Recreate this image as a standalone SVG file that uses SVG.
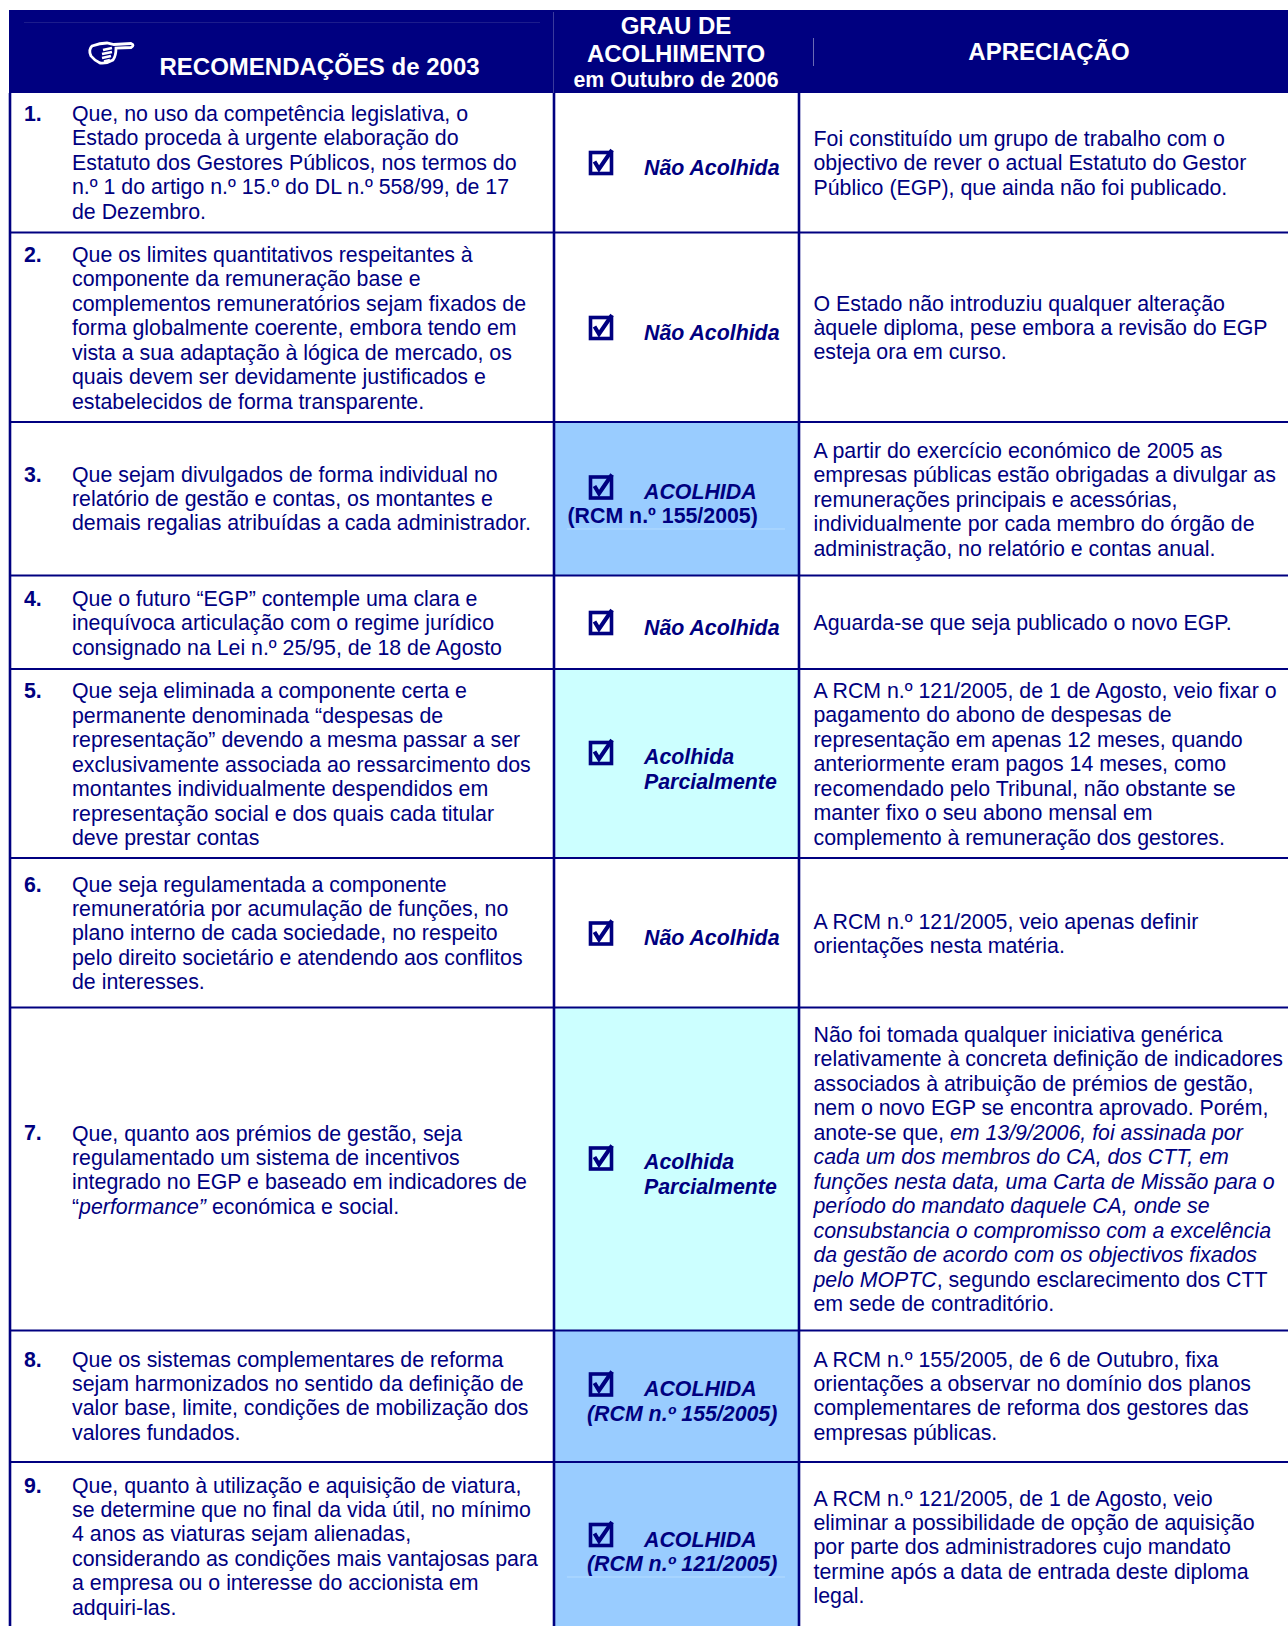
<svg xmlns="http://www.w3.org/2000/svg" width="1288" height="1626" viewBox="0 0 1288 1626">
<style>
text{font-family:"Liberation Sans",Arial,sans-serif;fill:#000080}
.b{font-size:21.33px}
.n{font-size:21.33px;font-weight:700}
.s{font-size:21.33px;font-weight:700;font-style:italic}
.r{font-size:21.33px;font-weight:700}
.h{font-weight:700;font-size:24px}
#header text{fill:#fff}
.c{text-anchor:middle}
.i{font-style:italic}
.g{stroke:#000080;stroke-width:2;fill:none}
.v{stroke:#000080;stroke-width:2.6;fill:none}
</style>
<defs>
<g id="chk"><rect x="-10.5" y="-10.5" width="21" height="21" fill="none" stroke="#000080" stroke-width="3.6"/><path d="M-6.5 -1.5L-2 6L11 -13" fill="none" stroke="#000080" stroke-width="4"/></g>
</defs>
<rect width="1288" height="1626" fill="#fff"/>
<g id="fills">
<rect x="554" y="422" width="245" height="154" fill="#99ccff"/>
<rect x="554" y="669" width="245" height="189" fill="#ccffff"/>
<rect x="554" y="1007" width="245" height="324" fill="#ccffff"/>
<rect x="554" y="1331" width="245" height="131" fill="#99ccff"/>
<rect x="554" y="1462" width="245" height="164" fill="#99ccff"/>
</g>
<g id="header">
<rect x="9" y="10" width="1279" height="83" fill="#000080"/>
<path d="M24 22.5H540" stroke="#1c1c8c" stroke-width="1"/>
<path d="M553.5 12V93" stroke="#3a3a9c" stroke-width="1"/>
<path d="M813.5 38V66" stroke="#6a6ab4" stroke-width="1"/>
<g id="hand" fill="none" stroke="#fff" stroke-width="2.8"><path d="M92 46Q100 43 107 43L114 44.5L131 43.5Q135 45 131 47.5L116 48Q116 56 113 60Q106 64 100 63Q94 60 91 56Q88 50 92 46Z"/><path d="M103 50L112 48M102 54L112 52M102 58L111 56M104 61.5L110 60"/></g>
<text class="h" x="159.5" y="75">RECOMENDAÇÕES de 2003</text>
<text class="h c" x="676" y="34">GRAU DE</text>
<text class="h c" x="676" y="62">ACOLHIMENTO</text>
<text class="r c" x="676" y="87">em Outubro de 2006</text>
<text class="h c" x="1049" y="60">APRECIAÇÃO</text>
</g>
<g id="grid">
<path class="g" d="M9 232.5H1288M9 422H1288M9 575.5H1288M9 669H1288M9 858H1288M9 1007.5H1288M9 1330.5H1288M9 1462H1288"/>
<path class="v" d="M10 93V1626M554 93V1626M799 93V1626"/>
<path d="M567 529H785M567 1577H785" stroke="#b4dcff" stroke-width="1"/>
</g>
<g id="row1">
<text class="n" x="24" y="121">1.</text>
<text class="b" y="121"><tspan x="72">Que, no uso da competência legislativa, o</tspan><tspan x="72" dy="24.45">Estado proceda à urgente elaboração do</tspan><tspan x="72" dy="24.45">Estatuto dos Gestores Públicos, nos termos do</tspan><tspan x="72" dy="24.45">n.º 1 do artigo n.º 15.º do DL n.º 558/99, de 17</tspan><tspan x="72" dy="24.45">de Dezembro.</tspan></text>
<use href="#chk" x="601" y="163"/>
<text class="s" x="644" y="175">Não Acolhida</text>
<text class="b" y="146"><tspan x="813.5">Foi constituído um grupo de trabalho com o</tspan><tspan x="813.5" dy="24.45">objectivo de rever o actual Estatuto do Gestor</tspan><tspan x="813.5" dy="24.45">Público (EGP), que ainda não foi publicado.</tspan></text>
</g>
<g id="row2">
<text class="n" x="24" y="262">2.</text>
<text class="b" y="262"><tspan x="72">Que os limites quantitativos respeitantes à</tspan><tspan x="72" dy="24.45">componente da remuneração base e</tspan><tspan x="72" dy="24.45">complementos remuneratórios sejam fixados de</tspan><tspan x="72" dy="24.45">forma globalmente coerente, embora tendo em</tspan><tspan x="72" dy="24.45">vista a sua adaptação à lógica de mercado, os</tspan><tspan x="72" dy="24.45">quais devem ser devidamente justificados e</tspan><tspan x="72" dy="24.45">estabelecidos de forma transparente.</tspan></text>
<use href="#chk" x="601" y="328"/>
<text class="s" x="644" y="340">Não Acolhida</text>
<text class="b" y="310.5"><tspan x="813.5">O Estado não introduziu qualquer alteração</tspan><tspan x="813.5" dy="24.45">àquele diploma, pese embora a revisão do EGP</tspan><tspan x="813.5" dy="24.45">esteja ora em curso.</tspan></text>
</g>
<g id="row3">
<text class="n" x="24" y="481.5">3.</text>
<text class="b" y="481.5"><tspan x="72">Que sejam divulgados de forma individual no</tspan><tspan x="72" dy="24.45">relatório de gestão e contas, os montantes e</tspan><tspan x="72" dy="24.45">demais regalias atribuídas a cada administrador.</tspan></text>
<use href="#chk" x="601" y="487.5"/>
<text class="s" x="644" y="498.5">ACOLHIDA</text>
<text class="r" x="567.5" y="523">(RCM n.º 155/2005)</text>
<text class="b" y="458"><tspan x="813.5">A partir do exercício económico de 2005 as</tspan><tspan x="813.5" dy="24.45">empresas públicas estão obrigadas a divulgar as</tspan><tspan x="813.5" dy="24.45">remunerações principais e acessórias,</tspan><tspan x="813.5" dy="24.45">individualmente por cada membro do órgão de</tspan><tspan x="813.5" dy="24.45">administração, no relatório e contas anual.</tspan></text>
</g>
<g id="row4">
<text class="n" x="24" y="606">4.</text>
<text class="b" y="606"><tspan x="72">Que o futuro “EGP” contemple uma clara e</tspan><tspan x="72" dy="24.45">inequívoca articulação com o regime jurídico</tspan><tspan x="72" dy="24.45">consignado na Lei n.º 25/95, de 18 de Agosto</tspan></text>
<use href="#chk" x="601" y="623"/>
<text class="s" x="644" y="635">Não Acolhida</text>
<text class="b" x="813.5" y="630">Aguarda-se que seja publicado o novo EGP.</text>
</g>
<g id="row5">
<text class="n" x="24" y="698">5.</text>
<text class="b" y="698.3"><tspan x="72">Que seja eliminada a componente certa e</tspan><tspan x="72" dy="24.45">permanente denominada “despesas de</tspan><tspan x="72" dy="24.45">representação” devendo a mesma passar a ser</tspan><tspan x="72" dy="24.45">exclusivamente associada ao ressarcimento dos</tspan><tspan x="72" dy="24.45">montantes individualmente despendidos em</tspan><tspan x="72" dy="24.45">representação social e dos quais cada titular</tspan><tspan x="72" dy="24.45">deve prestar contas</tspan></text>
<use href="#chk" x="601" y="753"/>
<text class="s" x="644" y="763.5">Acolhida</text>
<text class="s" x="644" y="789">Parcialmente</text>
<text class="b" y="698"><tspan x="813.5">A RCM n.º 121/2005, de 1 de Agosto, veio fixar o</tspan><tspan x="813.5" dy="24.45">pagamento do abono de despesas de</tspan><tspan x="813.5" dy="24.45">representação em apenas 12 meses, quando</tspan><tspan x="813.5" dy="24.45">anteriormente eram pagos 14 meses, como</tspan><tspan x="813.5" dy="24.45">recomendado pelo Tribunal, não obstante se</tspan><tspan x="813.5" dy="24.45">manter fixo o seu abono mensal em</tspan><tspan x="813.5" dy="24.45">complemento à remuneração dos gestores.</tspan></text>
</g>
<g id="row6">
<text class="n" x="24" y="891.5">6.</text>
<text class="b" y="891.5"><tspan x="72">Que seja regulamentada a componente</tspan><tspan x="72" dy="24.45">remuneratória por acumulação de funções, no</tspan><tspan x="72" dy="24.45">plano interno de cada sociedade, no respeito</tspan><tspan x="72" dy="24.45">pelo direito societário e atendendo aos conflitos</tspan><tspan x="72" dy="24.45">de interesses.</tspan></text>
<use href="#chk" x="601" y="933.5"/>
<text class="s" x="644" y="945">Não Acolhida</text>
<text class="b" y="928.5"><tspan x="813.5">A RCM n.º 121/2005, veio apenas definir</tspan><tspan x="813.5" dy="24.45">orientações nesta matéria.</tspan></text>
</g>
<g id="row7">
<text class="n" x="24" y="1140">7.</text>
<text class="b" y="1140.5"><tspan x="72">Que, quanto aos prémios de gestão, seja</tspan><tspan x="72" dy="24.45">regulamentado um sistema de incentivos</tspan><tspan x="72" dy="24.45">integrado no EGP e baseado em indicadores de</tspan><tspan x="72" dy="24.45">“<tspan class="i">performance”</tspan> económica e social.</tspan></text>
<use href="#chk" x="601" y="1158.5"/>
<text class="s" x="644" y="1169">Acolhida</text>
<text class="s" x="644" y="1194">Parcialmente</text>
<text class="b" y="1042"><tspan x="813.5">Não foi tomada qualquer iniciativa genérica</tspan><tspan x="813.5" dy="24.45">relativamente à concreta definição de indicadores</tspan><tspan x="813.5" dy="24.45">associados à atribuição de prémios de gestão,</tspan><tspan x="813.5" dy="24.45">nem o novo EGP se encontra aprovado. Porém,</tspan><tspan x="813.5" dy="24.45">anote-se que, <tspan class="i">em 13/9/2006, foi assinada por</tspan></tspan><tspan x="813.5" dy="24.45" class="i">cada um dos membros do CA, dos CTT, em</tspan><tspan x="813.5" dy="24.45" class="i">funções nesta data, uma Carta de Missão para o</tspan><tspan x="813.5" dy="24.45" class="i">período do mandato daquele CA, onde se</tspan><tspan x="813.5" dy="24.45" class="i">consubstancia o compromisso com a excelência</tspan><tspan x="813.5" dy="24.45" class="i">da gestão de acordo com os objectivos fixados</tspan><tspan x="813.5" dy="24.45"><tspan class="i">pelo MOPTC</tspan>, segundo esclarecimento dos CTT</tspan><tspan x="813.5" dy="24.45">em sede de contraditório.</tspan></text>
</g>
<g id="row8">
<text class="n" x="24" y="1366.5">8.</text>
<text class="b" y="1366.5"><tspan x="72">Que os sistemas complementares de reforma</tspan><tspan x="72" dy="24.45">sejam harmonizados no sentido da definição de</tspan><tspan x="72" dy="24.45">valor base, limite, condições de mobilização dos</tspan><tspan x="72" dy="24.45">valores fundados.</tspan></text>
<use href="#chk" x="601" y="1384.5"/>
<text class="s" x="644" y="1396">ACOLHIDA</text>
<text class="s" x="587" y="1421">(RCM n.º 155/2005)</text>
<text class="b" y="1366.5"><tspan x="813.5">A RCM n.º 155/2005, de 6 de Outubro, fixa</tspan><tspan x="813.5" dy="24.45">orientações a observar no domínio dos planos</tspan><tspan x="813.5" dy="24.45">complementares de reforma dos gestores das</tspan><tspan x="813.5" dy="24.45">empresas públicas.</tspan></text>
</g>
<g id="row9">
<text class="n" x="24" y="1492.5">9.</text>
<text class="b" y="1492.5"><tspan x="72">Que, quanto à utilização e aquisição de viatura,</tspan><tspan x="72" dy="24.45">se determine que no final da vida útil, no mínimo</tspan><tspan x="72" dy="24.45">4 anos as viaturas sejam alienadas,</tspan><tspan x="72" dy="24.45">considerando as condições mais vantajosas para</tspan><tspan x="72" dy="24.45">a empresa ou o interesse do accionista em</tspan><tspan x="72" dy="24.45">adquiri-las.</tspan></text>
<use href="#chk" x="601" y="1535"/>
<text class="s" x="644" y="1547">ACOLHIDA</text>
<text class="s" x="587" y="1571">(RCM n.º 121/2005)</text>
<text class="b" y="1505.5"><tspan x="813.5">A RCM n.º 121/2005, de 1 de Agosto, veio</tspan><tspan x="813.5" dy="24.45">eliminar a possibilidade de opção de aquisição</tspan><tspan x="813.5" dy="24.45">por parte dos administradores cujo mandato</tspan><tspan x="813.5" dy="24.45">termine após a data de entrada deste diploma</tspan><tspan x="813.5" dy="24.45">legal.</tspan></text>
</g>
</svg>
